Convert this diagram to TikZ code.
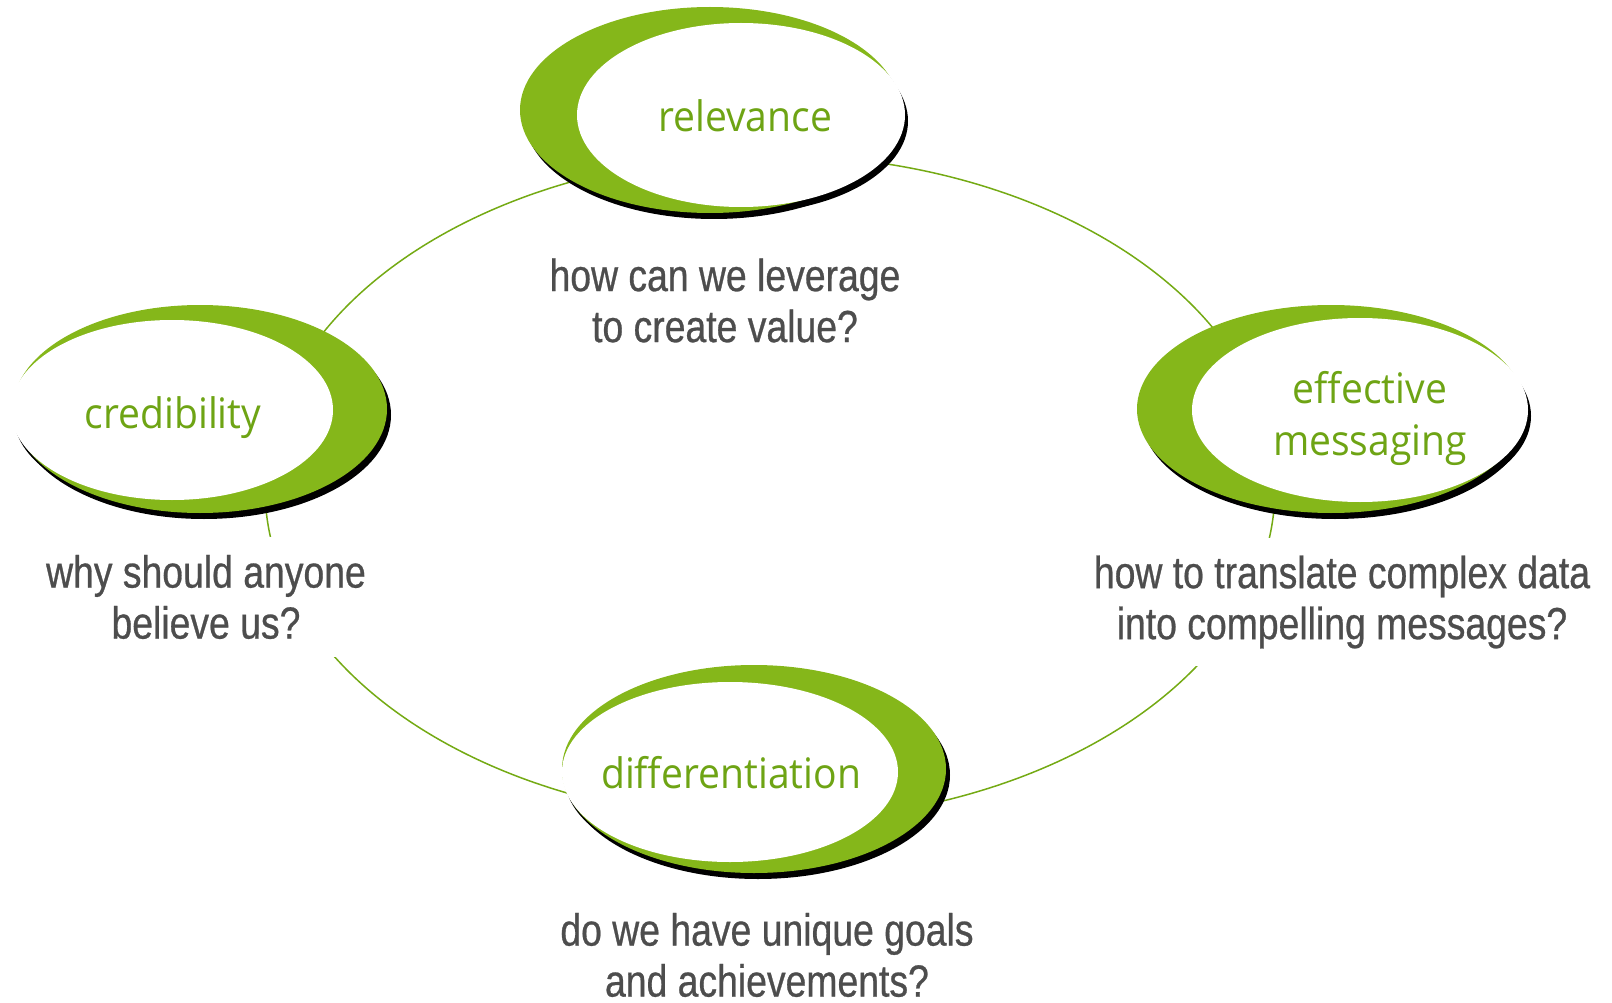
\documentclass[tikz,border=0pt]{standalone}
\usepackage{fontspec}
\setmainfont{Liberation Sans}
\newfontfamily\qfont[FakeStretch=0.83,FakeBold=0.6]{Liberation Sans}
\newfontfamily\lfont[FakeStretch=0.93]{Open Sans}
\usetikzlibrary{shapes.geometric}
\definecolor{leaf}{HTML}{85B71A}
\definecolor{leaftext}{HTML}{6EA414}
\definecolor{ringcol}{HTML}{74AA14}
\definecolor{qgray}{HTML}{4D4D4D}
\begin{document}
\begin{tikzpicture}[x=1pt,y=-1pt,
  questionbox/.style={font=\qfont\fontsize{45}{51}\selectfont, text=qgray, align=center, fill=white, inner xsep=4pt, inner ysep=18pt},
  conceptlbl/.style={font=\lfont\fontsize{42}{52}\selectfont, text=leaftext, align=center},
  ringline/.style={draw=ringcol, line width=1.5pt},
  nodeshadow/.style={fill=black},
  nodegreen/.style={fill=leaf},
  nodewhite/.style={fill=white}]
\useasboundingbox (0,0) rectangle (1612,1003);

% ring connecting the four concepts
\coordinate (ringc) at (770,488);
\draw[ringline] (ringc) ellipse [x radius=505pt, y radius=333pt];

% questions
\node[questionbox] (qrel) at (725,300.5) {how can we leverage\\to create value?};
\node[questionbox] (qcred) at (206,597) {why should anyone\\believe us?};
\node[questionbox] (qmsg) at (1342,602) {how to translate complex data\\into compelling messages?};
\node[questionbox, fill=none, inner ysep=1pt] (qdiff) at (767,955) {do we have unique goals\\and achievements?};

% concept ellipses: green cx, cy, rx, ry, white cx, cy, rx, ry
\newcommand\drawconcept[8]{%
  \fill[nodeshadow] (#1+4,#2+6) ellipse [x radius=#3pt, y radius=#4pt];
  \fill[nodeshadow] (#5+3,#6+6) ellipse [x radius=#7pt, y radius=#8pt];
  \fill[nodegreen] (#1,#2) ellipse [x radius=#3pt, y radius=#4pt];
  \fill[nodewhite] (#5,#6) ellipse [x radius=#7pt, y radius=#8pt];
}
\drawconcept{710}{110}{190}{103}{741}{115}{164}{92}
\drawconcept{200}{409}{187}{104}{172}{410}{161}{90}
\drawconcept{1331}{409}{194}{104}{1360}{410}{168}{92}
\drawconcept{754}{769}{192}{104}{730}{772}{168}{90}

% concept labels
\node[conceptlbl, anchor=base] (rel) at (745,132) {relevance};
\node[conceptlbl, anchor=base] (cred) at (173,428) {credibility};
\node[conceptlbl] (msg) at (1370,418) {effective\\messaging};
\node[conceptlbl, anchor=base] (diff) at (731,788) {differentiation};
\end{tikzpicture}
\end{document}
